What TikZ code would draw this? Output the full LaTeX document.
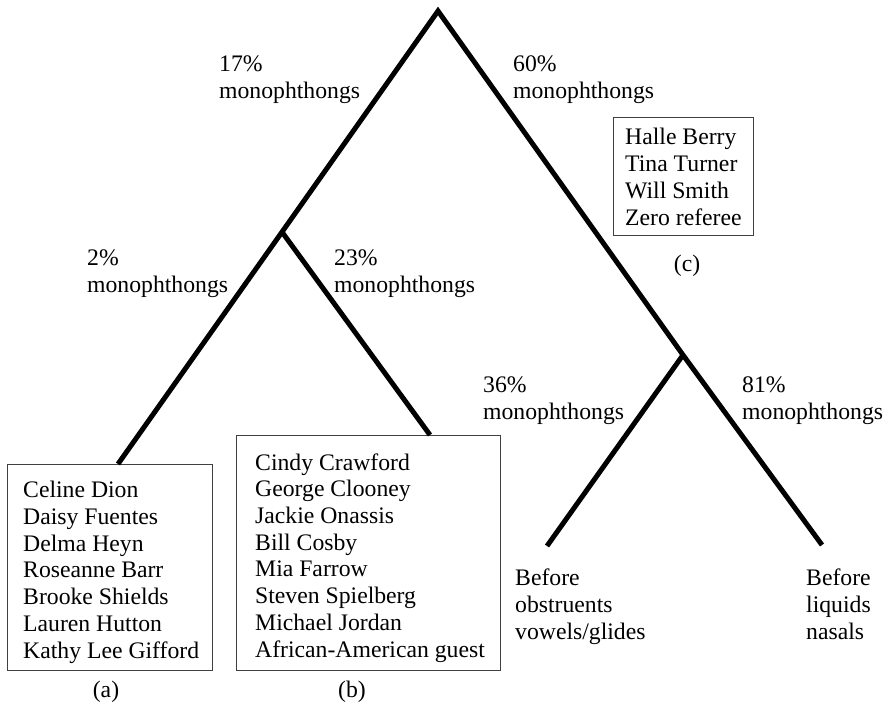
\documentclass[tikz,border=0pt]{standalone}
\usepackage{fontspec}
\setmainfont{Liberation Serif}
\begin{document}
\begin{tikzpicture}[x=1pt,y=-1pt,
  branch/.style={line width=5pt, line join=miter, line cap=butt},
  listbox/.style={draw=black!75, line width=0.9pt},
  lbl/.style={anchor=base west, inner sep=0pt, align=left, font=\fontsize{23.7}{26.7}\selectfont},
  tag/.style={anchor=base, inner sep=0pt, font=\fontsize{23.7}{26.7}\selectfont}]
\useasboundingbox (0,0) rectangle (890,712);
% tree points
\coordinate (apex) at (438,11);
\coordinate (jl) at (282,232);
\coordinate (jr) at (683,355);
\coordinate (ea) at (118,464);
\coordinate (eb) at (430,435);
\coordinate (eo) at (547,546);
\coordinate (el) at (822,545);
% boxes
\draw[listbox] (7,464) rectangle (212,670);
\draw[listbox] (236,435) rectangle (500,670);
\draw[listbox] (613,117) rectangle (753,235);
% branches
\draw[branch] (ea) -- (jl) -- (apex) -- (jr) -- (el);
\draw[branch] (jl) -- (eb);
\draw[branch] (jr) -- (eo);
% labels (anchored at the baseline of their last line)
\node[lbl] (t17) at (219,98) {17\%\\monophthongs};
\node[lbl] (t60) at (513,98) {60\%\\monophthongs};
\node[lbl] (t2) at (87,292) {2\%\\monophthongs};
\node[lbl] (t23) at (334,292) {23\%\\monophthongs};
\node[lbl] (t36) at (483,419) {36\%\\monophthongs};
\node[lbl] (t81) at (742,419) {81\%\\monophthongs};
\node[lbl] (la) at (23,658) {Celine Dion\\Daisy Fuentes\\Delma Heyn\\Roseanne Barr\\Brooke Shields\\Lauren Hutton\\Kathy Lee Gifford};
\node[lbl] (lb) at (255,657) {Cindy Crawford\\George Clooney\\Jackie Onassis\\Bill Cosby\\Mia Farrow\\Steven Spielberg\\Michael Jordan\\African-American guest};
\node[lbl] (lc) at (625,225) {Halle Berry\\Tina Turner\\Will Smith\\Zero referee};
\node[lbl] (obs) at (515,639) {Before\\obstruents\\vowels/glides};
\node[lbl] (liq) at (806,639) {Before\\liquids\\nasals};
\node[tag] (ta) at (106,697) {(a)};
\node[tag] (tb) at (352,697) {(b)};
\node[tag] (tc) at (687,271) {(c)};
\end{tikzpicture}
\end{document}
